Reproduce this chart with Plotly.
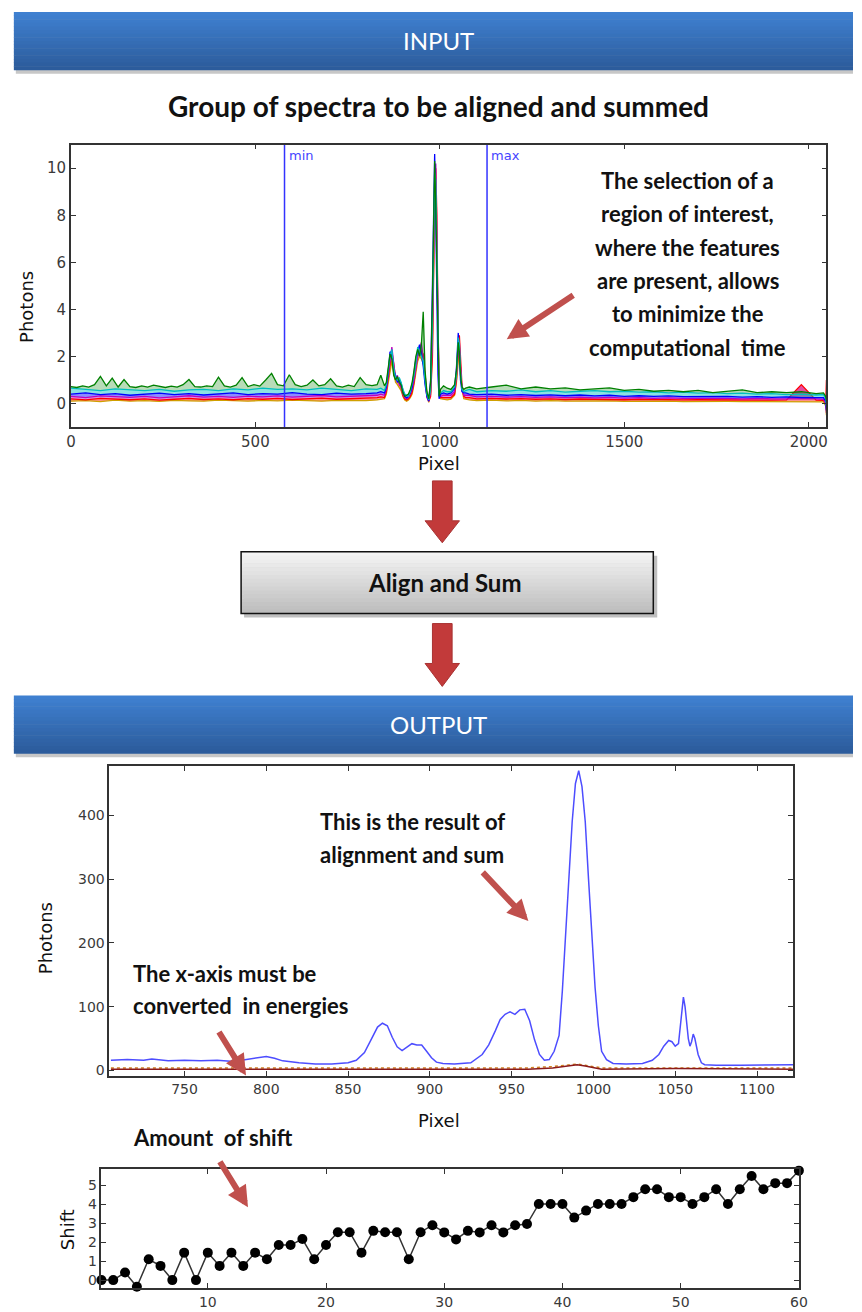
import plotly.graph_objects as go

W, H = 862, 1312

def fx(p):
    return p / W

def fy(p):
    return 1 - p / H

# ---------------- DATA ----------------
# Top chart: group of raw spectra
peak_px = [830, 840, 850, 855, 860, 865, 870, 875, 880, 885, 890, 895, 900, 905, 910, 915, 920, 925, 930, 935,
           940, 945, 950, 955, 960, 965, 970, 975, 980, 983, 986, 989, 992, 995, 998, 1002, 1010, 1020, 1030,
           1040, 1045, 1050, 1053, 1056, 1060, 1065, 1070, 1080]
tail_px = [1100, 1140, 1180, 1220, 1260, 1300, 1340, 1380, 1420, 1460, 1500, 1540, 1580, 1620, 1660, 1700,
           1740, 1780, 1820, 1860, 1900, 1940, 1980, 2020, 2040, 2046, 2048]
head_px = [0, 40, 80, 120, 160, 200, 240, 280, 320, 360, 400, 440, 480, 520, 560, 600, 640, 680, 720, 760, 800]
head_px_fine = [0, 16, 32, 48, 64, 80, 96, 112, 128, 144, 160, 176, 192, 208, 224, 240, 256, 272, 288, 304,
                320, 336, 352, 368, 384, 400, 416, 432, 448, 464, 480, 496, 512, 528, 544, 560, 576, 592, 608,
                624, 640, 656, 672, 688, 704, 720, 736, 752, 768, 784, 800, 816]

top_px = head_px + peak_px + tail_px
green_px = head_px_fine + peak_px + tail_px

spec_green = [0.72, 0.68, 0.75, 0.70, 0.80, 1.15, 0.75, 1.08, 0.70, 1.02, 0.72, 0.68, 0.75, 0.70, 0.78, 0.72,
              0.68, 0.74, 0.70, 0.80, 1.02, 0.72, 0.70, 0.75, 0.72, 1.12, 0.75, 0.70, 0.78, 1.10, 0.72, 0.80,
              0.74, 1.00, 1.28, 0.80, 0.75, 1.22, 0.80, 0.72, 0.78, 1.00, 0.75, 0.80, 1.05, 0.75, 0.70, 0.78,
              0.72, 1.10, 0.80, 0.76,
              0.80, 1.20, 0.75, 0.90, 1.60, 2.10, 1.90, 1.20, 1.00, 1.15, 0.90, 0.80, 0.45, 0.30, 0.35, 0.40, 0.60, 0.90, 1.40, 2.00,
              2.30, 2.00, 2.50, 3.90, 1.40, 0.50, 0.20, 0.90, 4.50, 8.00, 10.30, 8.50, 5.00, 1.50, 0.30, 0.60, 0.75, 0.65, 0.60,
              0.80, 1.40, 2.60, 2.20, 1.20, 0.70, 0.60, 0.65, 0.70,
              0.62, 0.70, 0.78, 0.62, 0.70, 0.62, 0.66, 0.58, 0.62, 0.66, 0.56, 0.60, 0.52, 0.56, 0.50, 0.56,
              0.46, 0.52, 0.58, 0.46, 0.50, 0.46, 0.50, 0.42, 0.45, 0.30, 0.10]
spec_cyan = [0.65, 0.60, 0.55, 0.62, 0.58, 0.55, 0.60, 0.52, 0.58, 0.60, 0.55, 0.62, 0.58, 0.65, 0.60, 0.62, 0.58, 0.65, 0.60, 0.55, 0.62,
             0.60, 0.65, 0.55, 0.80, 1.40, 2.00, 2.30, 1.50, 1.10, 1.00, 1.10, 0.90, 0.60, 0.40, 0.35, 0.30, 0.50, 0.80, 1.20, 1.70,
             2.40, 2.20, 2.00, 1.80, 1.00, 0.40, 0.15, 0.60, 3.50, 7.00, 9.80, 9.50, 6.00, 2.20, 0.40, 0.45, 0.55, 0.50, 0.50,
             0.70, 1.20, 2.80, 2.50, 1.40, 0.60, 0.50, 0.55, 0.60,
             0.50, 0.55, 0.52, 0.58, 0.50, 0.55, 0.48, 0.52, 0.55, 0.50, 0.52, 0.48, 0.50, 0.45, 0.48, 0.44,
             0.46, 0.42, 0.44, 0.40, 0.42, 0.38, 0.40, 0.36, 0.38, 0.20, -0.10]
spec_blue = [0.40, 0.45, 0.38, 0.42, 0.35, 0.40, 0.44, 0.38, 0.42, 0.36, 0.40, 0.45, 0.38, 0.42, 0.40, 0.46, 0.40, 0.38, 0.44, 0.40, 0.42,
             0.45, 0.50, 0.45, 0.70, 1.30, 2.20, 2.10, 1.40, 1.20, 0.90, 1.00, 0.85, 0.55, 0.30, 0.25, 0.30, 0.45, 0.70, 1.30, 1.90,
             2.20, 2.50, 2.10, 1.60, 0.80, 0.30, 0.10, 1.00, 5.00, 9.00, 10.60, 8.00, 4.00, 1.20, 0.20, 0.40, 0.45, 0.40, 0.45,
             0.65, 1.50, 3.00, 2.00, 1.00, 0.50, 0.45, 0.45, 0.40,
             0.38, 0.40, 0.35, 0.38, 0.34, 0.37, 0.33, 0.36, 0.32, 0.35, 0.30, 0.33, 0.30, 0.32, 0.29, 0.30,
             0.28, 0.30, 0.27, 0.29, 0.26, 0.28, 0.25, 0.27, 0.25, 0.10, -0.30]
spec_magenta = [0.30, 0.25, 0.32, 0.28, 0.26, 0.30, 0.24, 0.28, 0.33, 0.27, 0.30, 0.26, 0.31, 0.28, 0.32, 0.27, 0.30, 0.34, 0.28, 0.30, 0.32,
                0.35, 0.40, 0.35, 0.60, 1.10, 1.80, 2.40, 1.60, 1.00, 1.20, 0.80, 0.70, 0.40, 0.25, 0.20, 0.25, 0.40, 0.60, 1.00, 1.60,
                2.00, 2.30, 2.60, 1.90, 0.90, 0.25, 0.10, 0.50, 3.00, 6.50, 9.50, 10.20, 7.00, 2.50, 0.50, 0.30, 0.35, 0.35, 0.35,
                0.50, 1.20, 2.40, 2.60, 1.60, 0.60, 0.35, 0.35, 0.35,
                0.28, 0.30, 0.27, 0.29, 0.26, 0.28, 0.25, 0.27, 0.24, 0.26, 0.23, 0.25, 0.22, 0.24, 0.22, 0.23,
                0.21, 0.22, 0.20, 0.22, 0.20, 0.21, 0.19, 0.20, 0.18, 0.00, -0.40]
spec_red = [0.20, 0.15, 0.22, 0.18, 0.16, 0.20, 0.14, 0.18, 0.22, 0.17, 0.20, 0.16, 0.21, 0.18, 0.22, 0.17, 0.20, 0.23, 0.18, 0.20, 0.22,
            0.25, 0.28, 0.25, 0.50, 1.00, 1.70, 2.20, 1.70, 1.10, 1.00, 0.90, 0.70, 0.35, 0.20, 0.15, 0.20, 0.30, 0.50, 0.90, 1.50,
            2.10, 2.40, 2.20, 2.10, 1.20, 0.40, 0.10, 0.30, 2.00, 5.50, 8.50, 10.00, 8.00, 3.50, 0.80, 0.25, 0.25, 0.25, 0.25,
            0.40, 1.00, 2.20, 2.90, 2.00, 0.80, 0.30, 0.25, 0.25,
            0.20, 0.22, 0.19, 0.21, 0.18, 0.20, 0.17, 0.19, 0.17, 0.18, 0.16, 0.18, 0.16, 0.17, 0.15, 0.16,
            0.15, 0.16, 0.14, 0.15, 0.14, 0.15, 0.80, 0.14, 0.13, 0.00, 1.00]
spec_yellow = [0.10, 0.12, 0.08, 0.14, 0.10, 0.12, 0.09, 0.13, 0.11, 0.10, 0.14, 0.12, 0.10, 0.13, 0.11, 0.14, 0.12, 0.10, 0.13, 0.11, 0.12,
               0.15, 0.18, 0.20, 0.40, 0.90, 1.50, 1.80, 1.30, 0.90, 0.80, 0.70, 0.55, 0.30, 0.15, 0.10, 0.15, 0.25, 0.40, 0.80, 1.30,
               1.80, 2.00, 1.90, 1.70, 0.90, 0.30, 0.05, 0.40, 2.50, 6.00, 9.00, 9.00, 6.50, 2.80, 0.60, 0.20, 0.18, 0.15, 0.18,
               0.35, 0.90, 2.00, 2.30, 1.50, 0.60, 0.20, 0.18, 0.15,
               0.12, 0.14, 0.11, 0.13, 0.10, 0.12, 0.10, 0.11, 0.10, 0.11, 0.09, 0.10, 0.09, 0.10, 0.08, 0.09,
               0.08, 0.09, 0.08, 0.08, 0.07, 0.08, 0.07, 0.08, 0.07, -0.10, -0.50]

roi_min, roi_max = 579, 1128

# Middle chart: aligned and summed spectrum
sum_px = [705, 715, 725, 730, 740, 750, 760, 770, 780, 790, 795, 800, 805, 810, 820, 830, 840, 850, 855, 860,
          864, 868, 871, 874, 877, 880, 883, 886, 889, 892, 895, 898, 901, 904, 908, 915, 925, 932, 936, 940,
          943, 946, 949, 952, 955, 958, 961, 964, 967, 970, 973, 976, 979, 981, 983, 985, 987, 989, 991, 993,
          995, 997, 999, 1001, 1003, 1005, 1008, 1012, 1020, 1030, 1036, 1040, 1043, 1046, 1048, 1050, 1052,
          1054, 1055, 1056, 1058, 1059, 1060, 1061, 1062, 1064, 1066, 1068, 1075, 1090, 1110, 1122]
sum_val = [16, 17, 16, 18, 15, 16, 15, 16, 14, 18, 21, 22, 19, 15, 12, 10, 10, 12, 16, 28,
           48, 68, 74, 70, 52, 37, 31, 36, 42, 40, 40, 30, 20, 13, 11, 10, 12, 25, 40, 62,
           80, 88, 92, 88, 95, 96, 78, 48, 25, 16, 17, 30, 55, 125, 220, 300, 390, 450, 470, 445,
           390, 300, 210, 130, 70, 30, 17, 11, 10, 11, 16, 25, 38, 47, 45, 38, 42,
           95, 115, 100, 50, 38, 45, 57, 50, 25, 12, 9, 8, 8, 8, 9]
single_px = [705, 800, 900, 960, 975, 985, 990, 995, 1005, 1050, 1122]
single_a = [2, 2, 2, 2, 4, 8, 9, 7, 2, 3, 2]
single_b = [4, 4, 4, 4, 6, 9, 10, 8, 4, 4, 4]

# Bottom chart: amount of shift per spectrum
shift_idx = list(range(1, 61))
shift_val = [0.0, 0.0, 0.4, -0.35, 1.1, 0.75, 0.0, 1.45, 0.0, 1.45,
             0.75, 1.45, 0.75, 1.45, 1.1, 1.85, 1.85, 2.17, 1.1, 1.85,
             2.53, 2.53, 1.45, 2.6, 2.53, 2.53, 1.1, 2.53, 2.9, 2.52,
             2.15, 2.6, 2.52, 2.9, 2.52, 2.9, 2.96, 4.02, 4.02, 4.02,
             3.3, 3.67, 4.02, 4.02, 4.02, 4.38, 4.8, 4.8, 4.38, 4.38,
             4.02, 4.38, 4.8, 4.02, 4.8, 5.5, 4.8, 5.12, 5.12, 5.78]

# ---------------- FIGURE ----------------
fig = go.Figure()

def rgba(hexc, a):
    return "rgba(%d,%d,%d,%.2f)" % (int(hexc[1:3], 16), int(hexc[3:5], 16), int(hexc[5:7], 16), a)

spec_layers = [("#d0a000", top_px, spec_yellow, 0.0), ("#ff0000", top_px, spec_red, 0.45),
               ("#bf00bf", top_px, spec_magenta, 0.45), ("#0000ff", top_px, spec_blue, 0.45),
               ("#00bfbf", top_px, spec_cyan, 0.45), ("#008000", green_px, spec_green, 0.28)]
for k, (col, xs, vals, alpha) in enumerate(spec_layers):
    fig.add_trace(go.Scatter(x=xs, y=vals, mode="lines", line=dict(color=col, width=1.3),
                             fill=None if k == 0 else "tonexty", fillcolor=rgba(col, alpha),
                             xaxis="x", yaxis="y", showlegend=False, hoverinfo="skip"))
for v in (roi_min, roi_max):
    fig.add_trace(go.Scatter(x=[v, v], y=[-1, 11], mode="lines", line=dict(color="#3333ff", width=1.5),
                             xaxis="x", yaxis="y", showlegend=False, hoverinfo="skip"))

fig.add_trace(go.Scatter(x=single_px, y=single_b, mode="lines", line=dict(color="#d08020", width=1.5, dash="dot"),
                         xaxis="x2", yaxis="y2", showlegend=False))
fig.add_trace(go.Scatter(x=single_px, y=single_a, mode="lines", line=dict(color="#8b1a1a", width=1.5),
                         xaxis="x2", yaxis="y2", showlegend=False))
fig.add_trace(go.Scatter(x=sum_px, y=sum_val, mode="lines", line=dict(color="#4d4dff", width=1.5),
                         xaxis="x2", yaxis="y2", showlegend=False))

fig.add_trace(go.Scatter(x=shift_idx, y=shift_val, mode="lines+markers",
                         line=dict(color="#333333", width=1.5),
                         marker=dict(color="black", size=10),
                         xaxis="x3", yaxis="y3", showlegend=False, cliponaxis=False))

def axis_style(fs):
    return dict(showline=True, linecolor="#333333", linewidth=1.5, mirror="ticks", ticks="inside",
                ticklen=5, tickcolor="#333333", showgrid=False, zeroline=False,
                tickfont=dict(family="DejaVu Sans", size=fs, color="#3a3a3a"))

fig.update_layout(
    width=W, height=H, autosize=False,
    margin=dict(l=0, r=0, t=0, b=0),
    paper_bgcolor="white", plot_bgcolor="white",
    xaxis=dict(domain=[fx(67), fx(835)], range=[0, 2048], tickvals=[0, 500, 1000, 1500, 2000],
               anchor="y", **axis_style(15)),
    yaxis=dict(domain=[fy(428), fy(145)], range=[-1, 11], tickvals=[0, 2, 4, 6, 8, 10],
               anchor="x", **axis_style(15)),
    xaxis2=dict(domain=[fx(106), fx(801)], range=[704, 1122],
                tickvals=[750, 800, 850, 900, 950, 1000, 1050, 1100], anchor="y2", **axis_style(14)),
    yaxis2=dict(domain=[fy(1078), fy(768)], range=[-8, 477], tickvals=[0, 100, 200, 300, 400],
                anchor="x2", **axis_style(14)),
    xaxis3=dict(domain=[fx(98), fx(807)], range=[1, 60], tickvals=[10, 20, 30, 40, 50, 60],
                anchor="y3", **axis_style(14)),
    yaxis3=dict(domain=[fy(1291), fy(1172)], range=[-0.42, 5.85], tickvals=[0, 1, 2, 3, 4, 5],
                anchor="x3", **axis_style(14)),
)

shapes = []

def lerp_col(c1, c2, t):
    a = [int(c1[i:i + 2], 16) for i in (1, 3, 5)]
    b = [int(c2[i:i + 2], 16) for i in (1, 3, 5)]
    return "#" + "".join("%02x" % round(a[k] + (b[k] - a[k]) * t) for k in range(3))

def gradient_rect(x0, y0, x1, y1, ctop, cbot, n=16):
    h = (y1 - y0) / n
    for i in range(n):
        shapes.append(dict(type="rect", xref="paper", yref="paper", layer="below",
                           x0=fx(x0), x1=fx(x1), y0=fy(y0 + h * (i + 1) + 0.5), y1=fy(y0 + h * i),
                           fillcolor=lerp_col(ctop, cbot, i / (n - 1)), line=dict(width=0)))

# banners (with shadow)
for (y0, y1) in [(12, 70), (697, 755)]:
    shapes.append(dict(type="rect", xref="paper", yref="paper", layer="below",
                       x0=fx(11), x1=fx(862), y0=fy(y1 + 4), y1=fy(y0 + 3),
                       fillcolor="rgba(0,0,0,0.22)", line=dict(width=0)))
    gradient_rect(9, y0, 862, y1, "#3f80d0", "#2c5c9c")

# Align and Sum box
shapes.append(dict(type="rect", xref="paper", yref="paper", layer="below",
                   x0=fx(243), x1=fx(663), y0=fy(619), y1=fy(557),
                   fillcolor="rgba(0,0,0,0.25)", line=dict(width=0)))
gradient_rect(240, 553, 659, 615, "#f4f4f4", "#bdbdbd")
shapes.append(dict(type="rect", xref="paper", yref="paper",
                   x0=fx(240), x1=fx(659), y0=fy(615), y1=fy(553),
                   fillcolor="rgba(0,0,0,0)", line=dict(color="#111111", width=1.5)))

# block arrows
def block_arrow(ytop, yneck, ytip, cx=444.5):
    pts = [(cx - 10, ytop), (cx + 10, ytop), (cx + 10, yneck), (cx + 17.5, yneck),
           (cx, ytip), (cx - 17.5, yneck), (cx - 10, yneck)]
    path = "M " + " L ".join("%f,%f" % (fx(x), fy(y)) for x, y in pts) + " Z"
    shapes.append(dict(type="path", xref="paper", yref="paper", path=path,
                       fillcolor="#c23a3a", line=dict(color="#a83232", width=1)))

block_arrow(482, 522, 544)
block_arrow(625, 665, 688)

fig.update_layout(shapes=shapes)

ann = []
TXT = "Lato"

def text(x, y, s, size, color="#111111", xanchor="center", bold=True, family=TXT):
    ann.append(dict(x=fx(x), y=fy(y), xref="paper", yref="paper", text=("<b>%s</b>" % s) if bold else s,
                    showarrow=False, xanchor=xanchor, yanchor="middle",
                    font=dict(family=family, size=size, color=color)))

text(441, 41, "INPUT", 24, color="white", bold=False)
text(441, 726, "OUTPUT", 24, color="white", bold=False)
text(441, 106, "Group of spectra to be aligned and summed", 28)
text(447, 584, "Align and Sum", 24)

for i, line in enumerate(["The selection of a", "region of interest,", "where the features",
                          "are present, allows", "to minimize the", "computational  time"]):
    text(694, 181 + i * 33.4, line, 22)

text(318, 823, "This is the result of", 22, xanchor="left")
text(318, 856, "alignment and sum", 22, xanchor="left")
text(128, 976, "The x-axis must be", 22, xanchor="left")
text(128, 1008, "converted  in energies", 22, xanchor="left")
text(128, 1140, "Amount  of shift", 22, xanchor="left")

# axis titles
def axtitle(x, y, s, angle=0, size=18):
    ann.append(dict(x=fx(x), y=fy(y), xref="paper", yref="paper", text=s, showarrow=False,
                    textangle=angle, xanchor="center", yanchor="middle",
                    font=dict(family="DejaVu Sans", size=size, color="#111111")))

axtitle(22, 308, "Photons", -90)
axtitle(441, 465, "Pixel")
axtitle(42, 940, "Photons", -90)
axtitle(441, 1123, "Pixel")
axtitle(63, 1232, "Shift", -90)

# min / max labels
for v, s in ((roi_min, "min"), (roi_max, "max")):
    ann.append(dict(x=v, y=10.95, xref="x", yref="y", text=s, showarrow=False, xanchor="left",
                    yanchor="top", xshift=2, font=dict(family="DejaVu Sans", size=13, color="#4444ff")))

# red pointer arrows
def pointer(tip, tail):
    ann.append(dict(x=fx(tip[0]), y=fy(tip[1]), xref="paper", yref="paper", text="",
                    showarrow=True, ax=tail[0] - tip[0], ay=tail[1] - tip[1],
                    arrowhead=2, arrowsize=0.7, arrowwidth=6, arrowcolor="#c0504d"))

pointer((510, 340), (578, 295))
pointer((532, 923), (485, 873))
pointer((245, 1078), (217, 1033))
pointer((247, 1210), (218, 1163))

fig.update_layout(annotations=ann)

fig.write_html("out.html")
